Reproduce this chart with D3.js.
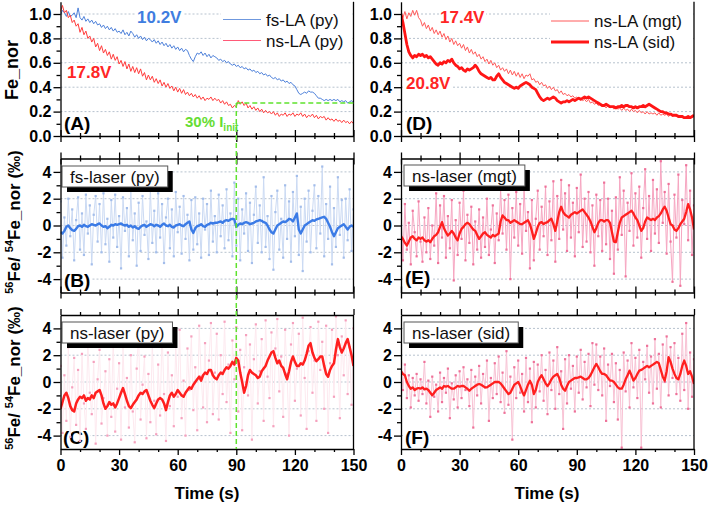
<!DOCTYPE html>
<html><head><meta charset="utf-8">
<script src="https://cdn.jsdelivr.net/npm/d3@7"></script>
<style>body{margin:0;background:#fff}svg{display:block}</style>
</head><body>
<svg id="c" width="709" height="505"></svg>
<script>
// ---------- DATA ----------
const timeS = d3.range(0, 151, 1); // seconds, one sample per second
const xMajorTicks = [0, 30, 60, 90, 120, 150];
const xMinorTicks = [10, 20, 40, 50, 70, 80, 100, 110, 130, 140];
const feTicks = [0.0, 0.2, 0.4, 0.6, 0.8, 1.0];
const feMinorTicks = [0.1, 0.3, 0.5, 0.7, 0.9];
const isoTicks = [-4, -2, 0, 2, 4];
const isoMinorTicks = [-3, -1, 1, 3];

// Panel A
const fsLA_py = [0.99,1.03,1.01,0.98,1.02,0.98,0.99,1.01,0.97,1.05,
0.97,0.95,0.98,0.94,0.96,0.93,0.95,0.92,0.94,0.91,
0.92,0.89,0.91,0.88,0.90,0.87,0.89,0.86,0.88,0.85,
0.86,0.84,0.87,0.83,0.85,0.82,0.86,0.84,0.81,0.83,
0.80,0.82,0.79,0.81,0.78,0.80,0.79,0.77,0.79,0.76,
0.78,0.75,0.77,0.74,0.76,0.73,0.75,0.72,0.74,0.71,
0.73,0.70,0.72,0.69,0.71,0.70,0.66,0.63,0.61,0.65,
0.68,0.67,0.69,0.66,0.68,0.65,0.67,0.64,0.66,0.65,
0.64,0.62,0.63,0.61,0.62,0.60,0.61,0.59,0.58,0.59,
0.57,0.58,0.56,0.57,0.55,0.56,0.54,0.55,0.53,0.54,
0.52,0.53,0.51,0.52,0.50,0.51,0.49,0.50,0.48,0.47,
0.48,0.46,0.47,0.45,0.46,0.44,0.45,0.43,0.44,0.42,
0.41,0.38,0.35,0.34,0.35,0.36,0.35,0.37,0.36,0.36,
0.35,0.33,0.31,0.31,0.30,0.29,0.30,0.29,0.30,0.29,
0.30,0.29,0.30,0.28,0.29,0.28,0.29,0.27,0.28,0.29,0.27];
const nsLA_py = [1.02,1.07,1.01,1.03,0.97,0.99,0.93,0.95,0.90,0.92,
0.85,0.89,0.83,0.86,0.80,0.82,0.77,0.80,0.73,0.76,
0.70,0.74,0.68,0.71,0.66,0.69,0.63,0.67,0.62,0.65,
0.59,0.62,0.57,0.61,0.55,0.59,0.53,0.57,0.52,0.56,
0.51,0.55,0.49,0.52,0.46,0.50,0.46,0.49,0.44,0.47,
0.43,0.46,0.41,0.44,0.40,0.43,0.39,0.41,0.37,0.40,
0.36,0.39,0.35,0.38,0.34,0.36,0.33,0.35,0.32,0.34,
0.31,0.33,0.30,0.32,0.29,0.31,0.30,0.32,0.29,0.31,
0.29,0.30,0.27,0.29,0.26,0.28,0.25,0.26,0.23,0.25,
0.24,0.29,0.26,0.28,0.25,0.27,0.23,0.25,0.22,0.24,
0.21,0.23,0.20,0.22,0.19,0.21,0.19,0.20,0.18,0.20,
0.17,0.19,0.16,0.18,0.17,0.19,0.16,0.18,0.17,0.19,
0.16,0.18,0.17,0.19,0.16,0.18,0.15,0.17,0.16,0.18,
0.15,0.17,0.14,0.16,0.15,0.16,0.13,0.15,0.13,0.14,
0.12,0.14,0.12,0.13,0.11,0.13,0.11,0.12,0.10,0.12,0.10];
// Panel D
const nsLA_mgt = [1.00,0.97,1.02,0.96,1.01,0.98,1.03,0.99,1.03,0.97,
0.95,0.90,0.93,0.88,0.91,0.86,0.89,0.84,0.87,0.83,
0.86,0.81,0.84,0.79,0.82,0.77,0.80,0.75,0.78,0.74,
0.76,0.72,0.75,0.70,0.73,0.68,0.71,0.67,0.69,0.65,
0.67,0.63,0.65,0.61,0.63,0.59,0.62,0.58,0.60,0.56,
0.58,0.54,0.56,0.53,0.55,0.51,0.54,0.50,0.53,0.49,
0.52,0.48,0.51,0.47,0.50,0.49,0.51,0.46,0.47,0.44,
0.45,0.42,0.44,0.41,0.42,0.39,0.41,0.38,0.40,0.37,
0.38,0.35,0.37,0.34,0.35,0.33,0.34,0.32,0.33,0.31,
0.32,0.30,0.31,0.29,0.30,0.28,0.30,0.27,0.28,0.26,
0.27,0.25,0.26,0.24,0.25,0.23,0.25,0.23,0.24,0.22,
0.24,0.22,0.23,0.21,0.23,0.21,0.22,0.20,0.22,0.20,
0.21,0.19,0.21,0.19,0.20,0.18,0.20,0.18,0.19,0.18,
0.19,0.17,0.19,0.17,0.18,0.17,0.18,0.16,0.18,0.16,
0.17,0.16,0.17,0.15,0.17,0.15,0.16,0.15,0.16,0.15,0.16];
const nsLA_sid = [1.00,0.93,0.84,0.75,0.69,0.66,0.64,0.66,0.65,0.67,
0.66,0.67,0.65,0.66,0.64,0.65,0.63,0.61,0.59,0.58,
0.60,0.59,0.61,0.60,0.62,0.61,0.63,0.60,0.58,0.57,
0.55,0.56,0.54,0.53,0.55,0.54,0.55,0.56,0.58,0.56,
0.53,0.51,0.50,0.49,0.48,0.47,0.48,0.46,0.46,0.49,
0.51,0.48,0.46,0.44,0.43,0.42,0.41,0.40,0.39,0.40,
0.39,0.41,0.42,0.43,0.44,0.43,0.42,0.40,0.39,0.38,
0.35,0.32,0.30,0.29,0.30,0.31,0.30,0.31,0.32,0.31,
0.29,0.28,0.27,0.28,0.28,0.29,0.28,0.29,0.30,0.29,
0.30,0.31,0.30,0.31,0.32,0.31,0.32,0.31,0.30,0.29,
0.28,0.27,0.26,0.25,0.25,0.26,0.25,0.24,0.24,0.24,
0.23,0.24,0.24,0.25,0.24,0.25,0.25,0.24,0.24,0.23,
0.24,0.23,0.24,0.24,0.25,0.24,0.25,0.26,0.25,0.24,
0.23,0.22,0.21,0.20,0.20,0.19,0.19,0.18,0.18,0.17,
0.17,0.17,0.16,0.16,0.16,0.15,0.15,0.16,0.15,0.16,0.17];
// Panel B (fs-laser py)
const rawB = [1.8,-2.4,0.6,-1.5,2.0,-0.8,1.2,-2.6,0.4,2.1,
-1.8,0.9,-2.2,2.3,-0.6,1.5,-2.9,0.8,2.2,-1.2,
1.6,-2.0,2.4,-1.4,0.5,-2.7,1.9,-0.9,2.3,-1.6,
0.7,-3.2,2.1,-0.4,1.3,-2.3,2.6,-1.1,0.9,-3.0,
1.7,-1.9,2.2,-0.7,0.3,-2.5,2.8,-1.3,1.1,-2.0,
2.4,-0.9,1.6,-2.8,0.6,2.0,-1.7,1.2,-2.3,2.5,
-0.5,1.4,-2.1,2.2,-1.0,0.8,-2.6,1.9,-1.8,2.1,
-1.4,0.9,-2.4,2.0,-0.3,1.6,-2.2,2.6,-1.2,0.7,
-2.0,2.3,-0.8,1.5,-1.7,2.7,-1.1,0.9,-2.3,3.2,
-1.5,2.0,-2.6,1.2,-0.6,2.4,-1.9,1.7,-2.8,0.8,
2.9,-1.3,1.5,-2.0,3.6,-1.6,0.7,-2.5,2.2,-3.3,
1.0,2.6,-1.8,0.5,-2.4,3.0,-1.0,1.8,-2.7,2.5,
-0.8,3.7,-2.2,1.4,-3.4,2.0,-1.2,2.6,-2.0,1.1,
3.0,-1.7,2.2,-0.6,4.4,-2.3,1.6,-1.0,2.9,-2.9,
1.3,-1.6,3.6,-0.7,1.9,-2.4,2.0,-1.1,2.7,-1.9,1.2];
const smoothB = [-0.5,-0.6,-0.4,-0.1,0.0,-0.2,-0.35,-0.4,-0.25,-0.05,
0.0,-0.1,0.05,-0.05,-0.1,0.0,0.1,0.05,0.0,0.1,
0.15,0.0,-0.1,-0.05,-0.2,-0.1,0.05,0.0,0.1,0.05,
0.1,0.15,0.05,0.0,0.05,-0.1,0.0,-0.15,-0.05,-0.2,
-0.25,-0.1,0.0,0.05,-0.1,0.0,0.1,0.05,-0.05,0.05,
0.0,-0.1,0.05,0.15,0.0,-0.05,0.05,-0.1,-0.15,0.0,
0.05,0.1,0.0,-0.05,0.1,0.2,0.3,-0.3,-0.55,-0.2,
-0.05,0.0,0.1,-0.05,-0.1,0.05,0.1,0.2,0.15,0.2,
0.2,0.25,0.3,0.2,0.35,0.4,0.35,0.45,0.5,0.45,
-0.1,0.05,0.15,0.1,0.2,0.25,0.2,0.1,0.15,0.2,
0.3,0.35,0.4,0.35,0.25,0.2,0.0,-0.3,-0.5,-0.6,
-0.3,0.0,0.1,0.2,0.3,0.25,0.35,0.5,0.45,0.3,
0.6,0.9,-0.3,-0.6,-0.3,0.0,0.1,0.2,0.3,0.4,
0.35,0.45,0.5,0.55,0.6,0.65,0.5,0.2,-0.1,-0.5,
-0.8,-0.5,-0.2,-0.1,0.0,0.1,-0.1,-0.3,-0.1,0.0,-0.1];
// Panel C (ns-laser py)
const rawC = [1.2,-3.8,0.5,-2.9,2.6,-4.1,-0.4,1.8,-3.2,0.9,
-4.4,2.1,-1.6,-3.5,3.0,-0.8,-2.4,1.5,-4.6,0.2,
2.4,-3.1,-1.2,0.8,-4.0,1.7,-2.6,3.3,-3.7,-0.5,
1.4,-4.3,2.7,-1.9,0.3,-3.4,2.0,-2.2,-4.5,1.0,
3.5,-2.8,-0.2,1.9,-4.2,0.6,-3.0,2.9,-1.4,-3.9,
1.3,-2.5,3.8,-0.9,-4.4,2.2,-1.8,0.5,-3.3,2.8,
-1.1,3.9,-2.7,0.1,-4.0,2.5,-0.6,3.4,-2.1,1.1,
-3.6,4.2,0.4,-1.9,2.9,-3.0,1.6,4.4,-2.4,0.7,
3.6,-2.8,2.0,-0.9,4.5,-1.5,1.3,-3.8,3.1,0.2,
4.1,-2.2,2.4,-3.6,1.1,3.5,-1.0,2.8,-4.3,1.7,
4.3,-1.6,0.8,3.2,-2.9,4.6,0.4,-1.2,3.7,-3.3,
2.5,4.7,-0.7,1.9,-2.6,3.9,0.6,-4.0,2.8,4.4,
-1.4,1.0,3.6,-2.5,4.8,0.3,-3.5,2.3,4.1,-0.8,
1.6,-2.9,4.5,0.9,3.0,-2.0,4.2,-3.8,1.4,3.9,
-1.1,4.9,2.0,-2.7,3.4,0.5,4.6,-0.9,2.6,-1.7,4.0];
const smoothC = [-2.0,-1.5,-1.0,-0.8,-1.2,-1.8,-2.1,-2.2,-1.6,-1.3,
-1.1,-1.2,-1.0,-1.4,-1.2,-1.3,-1.0,-1.2,-0.8,-0.7,
-0.6,-1.0,-1.6,-2.0,-1.8,-1.5,-1.7,-1.6,-1.9,-1.6,
-1.2,-0.8,-0.45,-0.9,-1.4,-1.8,-1.95,-1.7,-1.5,-1.3,
-1.0,-0.8,-0.9,-0.7,-0.6,-1.0,-1.4,-1.7,-1.95,-1.6,
-1.3,-1.2,-1.3,-1.6,-2.1,-1.5,-1.0,-0.8,-1.1,-0.9,
-0.6,-0.8,-1.0,-1.1,-0.8,-0.6,-0.4,-0.5,-0.2,0.0,
0.2,0.4,0.1,0.5,0.7,0.6,0.9,0.9,0.5,0.3,
0.2,0.5,0.7,0.6,0.9,1.1,1.0,1.2,1.5,1.3,
1.8,1.6,0.7,0.0,-0.8,-0.3,0.5,0.9,0.7,0.6,
0.5,0.3,0.4,0.8,1.0,1.2,1.6,1.9,2.2,2.3,
1.8,1.4,1.6,1.2,1.05,0.6,0.2,0.8,1.5,1.9,
1.5,1.2,1.2,1.4,1.3,1.6,2.1,2.7,2.9,2.2,
1.8,1.55,1.7,1.9,1.9,1.2,0.6,0.4,0.9,1.2,
1.4,2.4,3.2,2.6,2.2,2.5,2.9,3.2,2.6,2.0,1.2];
// Panel E (ns-laser mgt)
const rawE = [0.9,-2.6,1.6,-1.8,0.2,-2.9,1.1,-0.5,-2.3,1.8,
-1.2,-2.7,0.6,-2.0,1.3,-2.5,0.0,-1.5,2.4,-2.8,
1.5,-0.9,2.2,-2.4,0.7,-1.7,1.9,-4.1,0.4,-2.2,
1.7,-1.0,2.6,-2.6,0.8,-1.3,1.4,-2.9,0.3,-1.8,
1.2,-2.4,0.6,-1.6,2.0,-2.2,-0.3,1.5,-2.8,0.9,
-1.1,2.7,-0.6,1.9,-1.8,2.3,-4.0,1.3,-0.9,2.5,
-1.5,1.6,-2.1,2.8,-0.4,1.0,-3.2,1.9,-2.6,0.5,
2.6,-1.8,1.4,-0.8,2.9,-2.2,1.8,-1.1,3.3,-2.7,
2.2,-1.0,3.4,-0.3,2.4,-1.9,3.0,-0.9,1.7,-2.3,
2.8,-0.5,3.8,-1.6,2.0,-1.2,2.5,-2.0,1.5,-3.0,
2.3,-0.8,1.9,-1.9,3.2,-1.4,2.0,-2.5,1.1,-3.6,
2.1,-1.8,3.6,-0.7,2.6,-3.8,1.7,-0.4,3.9,-1.5,
2.4,-0.9,2.9,-2.4,1.3,4.2,-1.0,2.2,-1.9,3.4,
-0.6,2.7,-1.3,4.8,0.2,2.5,-2.1,3.1,-1.2,-4.2,
2.3,-0.9,3.8,-4.5,1.9,0.1,4.5,-1.1,2.6,-2.2,1.5];
const smoothE = [-0.8,-1.0,-1.3,-1.5,-1.2,-0.9,-0.8,-1.0,-1.1,-0.9,
-1.0,-0.9,-1.1,-1.2,-1.1,-1.25,-1.0,-0.8,-0.7,-0.5,
-0.1,0.25,-0.2,-0.5,-0.75,-0.6,-0.4,-0.6,-0.9,-1.1,
-0.6,-0.25,-0.1,0.1,0.2,0.1,-0.1,-0.3,-0.4,-0.7,
-1.0,-0.8,-0.6,-0.5,-0.7,-0.8,-0.9,-0.7,-0.8,-0.7,
-0.6,0.3,0.75,0.6,0.4,0.4,0.2,0.3,0.4,0.3,
0.2,0.1,0.1,0.2,0.3,0.4,0.1,-0.4,-1.0,-0.6,
-0.1,0.2,0.25,0.1,0.2,0.25,0.4,0.5,0.1,-0.4,
0.3,1.0,1.4,1.0,0.8,0.7,0.6,0.8,0.9,1.0,
0.9,1.0,1.1,1.2,1.0,0.8,0.6,0.3,-0.1,-0.5,
-0.2,0.2,0.4,0.4,0.3,0.4,0.4,0.2,-0.5,-1.2,
-1.25,-0.5,0.2,0.6,0.7,0.8,0.9,1.0,1.1,0.9,
0.6,0.4,0.0,-0.4,-0.2,0.3,0.6,0.5,0.4,0.5,
0.4,0.6,0.7,0.9,1.2,1.4,1.1,0.6,0.1,0.0,
-0.3,-0.4,-0.2,0.1,0.3,0.5,1.0,1.6,1.2,0.6,-0.3];
// Panel F (ns-laser sid)
const rawF = [1.4,-0.6,1.3,-1.2,0.5,-1.9,0.3,-1.0,0.6,-1.4,
0.2,-0.9,1.5,-1.6,0.1,-2.6,0.4,-1.1,-0.2,-2.2,
0.7,-1.5,0.3,-0.8,1.0,-2.7,-0.1,-1.3,0.5,-1.9,
0.8,-1.2,1.1,-0.6,0.2,-1.8,0.9,-3.4,0.4,-1.0,
1.2,-1.6,0.6,-0.4,1.6,-2.9,0.3,-1.2,1.4,-0.9,
1.9,-1.5,0.7,-2.3,2.3,-1.7,0.4,-4.3,1.1,-1.2,
1.6,-0.8,0.6,-2.2,1.8,-1.5,1.0,-3.0,1.5,-1.9,
1.3,-0.7,2.0,-1.4,0.9,-2.4,2.2,-0.6,1.6,-2.0,
2.6,-0.9,0.8,-3.5,1.7,-1.6,2.0,-0.5,1.2,-2.2,
1.9,-0.8,2.4,-1.3,1.5,-0.4,2.1,-1.8,2.9,-0.2,
2.8,-0.6,1.9,-1.0,2.5,-2.9,1.3,-0.3,2.1,-1.5,
1.4,-2.8,0.9,-4.9,2.2,-0.7,1.6,-1.9,2.9,-0.4,
1.8,-1.2,2.4,-4.9,1.5,0.2,2.7,-0.8,1.9,-1.6,
3.2,-0.5,2.1,-1.9,2.8,0.0,3.4,-1.0,2.6,0.3,
2.9,-0.9,1.8,-1.4,3.6,-0.6,4.4,-2.0,2.2,-1.1,1.7];
const smoothF = [0.8,0.6,0.5,0.0,-0.3,-0.5,-0.4,-0.6,-0.5,-0.45,
-0.5,-0.4,-0.55,-0.5,-0.6,-0.8,-1.0,-0.8,-0.6,-0.5,
-0.4,-0.5,-0.3,-0.35,-0.3,-0.4,-0.5,-0.5,-0.4,-0.3,
-0.35,-0.3,-0.3,-0.4,-0.5,-0.65,-0.5,-0.4,-0.3,-0.2,
-0.15,-0.2,-0.3,-0.4,-0.4,-0.3,-0.2,-0.1,0.0,0.0,
0.0,-0.1,-0.3,-0.5,-0.7,-0.9,-0.8,-0.5,-0.2,-0.1,
0.0,-0.3,-0.7,-1.0,-0.6,-0.2,0.1,-0.2,-0.9,-0.6,
0.0,0.3,0.5,0.2,-0.1,-0.3,-0.1,0.2,0.4,0.5,
0.6,0.3,-0.2,-0.5,-0.65,-0.3,0.0,0.1,0.2,0.3,
0.3,0.35,0.4,0.3,0.2,0.2,0.3,0.5,0.8,1.1,
1.35,1.1,0.8,0.6,0.6,0.5,0.3,0.1,0.1,0.0,
-0.2,-0.4,-0.5,-0.5,-0.2,0.2,0.5,0.85,0.5,0.1,
0.3,0.6,0.85,0.9,1.0,1.1,1.2,1.1,1.2,1.3,
1.4,1.5,1.4,0.9,0.4,0.1,0.8,1.85,1.5,1.0,
0.6,0.3,0.2,0.6,1.2,1.6,1.2,0.6,0.8,0.4,-0.15];
const markerTime = 90;      // 30% I_init crossing
const markerLevel = 0.27;

// ---------- DRAW ----------
const FONT = '"Liberation Sans", Arial, Helvetica, sans-serif';
const svg = d3.select('#c');
const colL = {left: 60.5, right: 353.5}, colR = {left: 401, right: 694};
const rowA = {top: 1.8, bottom: 136, dom: [0, 1.1]};
const rowB = {top: 158.5, bottom: 292.5, dom: [-5, 5]};
const rowC = {top: 315, bottom: 449, dom: [-5, 5]};

const panels = [];
function setup(name, col, row, opt) {
  const x = d3.scaleLinear().domain([0, 150]).range([col.left, col.right]);
  const y = d3.scaleLinear().domain(row.dom).range([row.bottom, row.top]);
  const id = 'clip' + name;
  svg.append('clipPath').attr('id', id).append('rect')
    .attr('x', col.left).attr('y', row.top).attr('width', col.right - col.left).attr('height', row.bottom - row.top);
  const gridG = svg.append('g');
  opt.grid.forEach(v => gridG.append('line')
    .attr('x1', col.left).attr('x2', col.right).attr('y1', y(v)).attr('y2', y(v))
    .attr('stroke', '#b7c2ce').attr('stroke-width', 1).attr('stroke-dasharray', '2,2'));
  const labelG = svg.append('g');
  const dataG = svg.append('g').attr('clip-path', `url(#${id})`);
  const P = {name, x, y, col, row, opt, dataG, labelG};
  panels.push(P);
  return P;
}
function line(P, xs, ys, color, w) {
  P.dataG.append('path').datum(xs.map((t, i) => [t, ys[i]]))
    .attr('fill', 'none').attr('stroke', color).attr('stroke-width', w).attr('stroke-linejoin', 'round')
    .attr('d', d3.line().x(d => P.x(d[0])).y(d => P.y(d[1])));
}
function raw(P, xs, ys, lc, dc) {
  line(P, xs, ys, lc, 1);
  P.dataG.append('g').selectAll('rect').data(xs.map((t, i) => [t, ys[i]])).join('rect')
    .attr('x', d => P.x(d[0]) - 1.1).attr('y', d => P.y(d[1]) - 1.1).attr('width', 2.2).attr('height', 2.2)
    .attr('fill', dc);
}
function label(P, txt, x, y, color, size, bg) {
  const t = P.labelG.append('text').attr('x', x).attr('y', y).attr('fill', color)
    .style('font', `bold ${size}px ${FONT}`).text(txt);
  if (bg) {
    const b = t.node().getBBox();
    P.labelG.insert('rect', 'text').attr('x', b.x - 1).attr('y', b.y).attr('width', b.width + 2).attr('height', b.height).attr('fill', '#fff');
  }
  return t;
}
function boxLabel(txt, x, yTop) {
  const g = svg.append('g');
  const t = g.append('text').attr('x', x + 8).attr('y', yTop + 16.5)
    .style('font', `17px ${FONT}`).attr('fill', '#111').text(txt);
  const w = t.node().getComputedTextLength() + 16;
  g.insert('rect', 'text').attr('x', x + 5).attr('y', yTop + 5).attr('width', w).attr('height', 21).attr('fill', '#000');
  g.insert('rect', 'text').attr('x', x).attr('y', yTop).attr('width', w).attr('height', 21)
    .attr('fill', '#fff').attr('stroke', '#555').attr('stroke-width', 1);
}
function axes(P) {
  const {x, y, col, row, opt} = P;
  const st = g => { g.selectAll('path,line').attr('stroke', '#000').attr('stroke-width', 1.3); g.selectAll('text').attr('fill', '#000').style('font', `bold 16px ${FONT}`); };
  // left
  svg.append('g').attr('transform', `translate(${col.left},0)`)
    .call(d3.axisLeft(y).tickValues(opt.major).tickSize(7).tickSizeOuter(0).tickPadding(2).tickFormat(opt.fmt)).call(st);
  svg.append('g').attr('transform', `translate(${col.left},0)`)
    .call(d3.axisLeft(y).tickValues(opt.minor).tickSize(4).tickFormat('')).call(st).select('.domain').remove();
  // right border
  svg.append('line').attr('x1', col.right).attr('x2', col.right).attr('y1', row.top).attr('y2', row.bottom)
    .attr('stroke', '#000').attr('stroke-width', 1.3);
  // bottom
  const b1 = svg.append('g').attr('transform', `translate(0,${row.bottom})`)
    .call(d3.axisBottom(x).tickValues(xMajorTicks).tickSize(6).tickSizeOuter(0).tickPadding(5).tickFormat(opt.xLabels ? d => d : '')).call(st);
  const b2 = svg.append('g').attr('transform', `translate(0,${row.bottom})`)
    .call(d3.axisBottom(x).tickValues(xMinorTicks).tickSize(3).tickFormat('')).call(st);
  b2.select('.domain').remove();
  if (!opt.xLabels) { b1.selectAll('.tick line').attr('y1', -6); b2.selectAll('.tick line').attr('y1', -3); }
  // top
  if (opt.top) {
    const t1 = svg.append('g').attr('transform', `translate(0,${row.top})`)
      .call(d3.axisTop(x).tickValues(xMajorTicks).tickSize(6).tickSizeOuter(0).tickFormat('')).call(st);
    const t2 = svg.append('g').attr('transform', `translate(0,${row.top})`)
      .call(d3.axisTop(x).tickValues(xMinorTicks).tickSize(3).tickFormat('')).call(st);
    t2.select('.domain').remove();
    if (opt.topCross) { t1.selectAll('.tick line').attr('y1', 6); t2.selectAll('.tick line').attr('y1', 3); }
  }
}

const feOpt = {major: feTicks, minor: feMinorTicks, fmt: d3.format('.1f'), grid: feTicks.slice(1), top: false, xLabels: false};
const isoOpt = (xl) => ({major: isoTicks, minor: isoMinorTicks, fmt: d => String(d), grid: isoTicks, top: true, topCross: !xl, xLabels: xl});

const A = setup('A', colL, rowA, feOpt);
const D = setup('D', colR, rowA, feOpt);
const B = setup('B', colL, rowB, isoOpt(false));
const E = setup('E', colR, rowB, isoOpt(false));
const C = setup('C', colL, rowC, isoOpt(true));
const F = setup('F', colR, rowC, isoOpt(true));

// panel labels with white background (under data)
label(A, '(A)', 64, 130, '#000', 19, true);
label(A, '10.2V', 137, 23, '#3f7de0', 17, true);
label(A, '17.8V', 67, 78, '#ff2525', 17, true);
const g30 = label(A, '30% I', 185, 127, '#66dd33', 15, false);
g30.append('tspan').attr('dy', 4).style('font-size', '10px').text('init');
label(D, '(D)', 406, 130, '#000', 19, true);
label(D, '17.4V', 440, 23, '#ff2525', 17, true);
label(D, '20.8V', 406, 89, '#ff2525', 17, true);
label(B, '(B)', 64, 287, '#000', 19, true);
label(E, '(E)', 405, 284, '#000', 19, true);
label(C, '(C)', 63, 444, '#000', 19, true);
label(F, '(F)', 405, 444, '#000', 19, true);

// data
line(A, timeS, fsLA_py, '#4e80d9', 1);
line(A, timeS, nsLA_py, '#ff3c3c', 1);
line(D, timeS, nsLA_mgt, '#ff5a5a', 1);
line(D, timeS, nsLA_sid, '#ff1616', 2.8);
raw(B, timeS, rawB, '#cbdaf3', '#a3bdea');
line(B, timeS, smoothB, '#3b7be6', 2.4);
raw(C, timeS, rawC, '#fde9ef', '#f5a0bd');
line(C, timeS, smoothC, '#ff1f1f', 2.5);
raw(E, timeS, rawE, '#f6a6c1', '#ee7199');
line(E, timeS, smoothE, '#ff1f1f', 2.3);
raw(F, timeS, rawF, '#f8c2d4', '#ee7199');
line(F, timeS, smoothF, '#ff1f1f', 2.3);

// legends
function legend(x0, y0, color, w, txt) {
  svg.append('line').attr('x1', x0).attr('x2', x0 + 38).attr('y1', y0).attr('y2', y0).attr('stroke', color).attr('stroke-width', w);
  svg.append('text').attr('x', x0 + 43).attr('y', y0 + 6).style('font', `17px ${FONT}`).attr('fill', '#111').text(txt);
}
svg.append('rect').attr('x', 221).attr('y', 6).attr('width', 130).attr('height', 46).attr('fill', '#fff');
legend(223, 19.5, '#6f98de', 1.2, 'fs-LA (py)');
legend(223, 40.5, '#ff5a78', 1.2, 'ns-LA (py)');
svg.append('rect').attr('x', 550).attr('y', 8).attr('width', 142).attr('height', 45).attr('fill', '#fff');
legend(551, 21, '#ff5a5a', 1, 'ns-LA (mgt)');
legend(551, 42, '#ff1616', 3, 'ns-LA (sid)');

// box labels
boxLabel('fs-laser (py)', 62, 166);
boxLabel('ns-laser (mgt)', 404, 165);
boxLabel('ns-laser (py)', 62, 322);
boxLabel('ns-laser (sid)', 404, 322);

panels.forEach(axes);

// axis titles
svg.append('text').attr('transform', 'translate(18,70) rotate(-90)').attr('text-anchor', 'middle')
  .style('font', `bold 18px ${FONT}`).text('Fe_nor');
function isoTitle(cy) {
  const t = svg.append('text').attr('transform', `translate(20,${cy}) rotate(-90)`).attr('text-anchor', 'middle')
    .style('font', `bold 17px ${FONT}`);
  t.append('tspan').style('font-size', '11px').attr('dy', -7).text('56');
  t.append('tspan').attr('dy', 7).text('Fe/ ');
  t.append('tspan').style('font-size', '11px').attr('dy', -7).text('54');
  t.append('tspan').attr('dy', 7).text('Fe_nor (‰)');
}
isoTitle(222);
isoTitle(378);
svg.append('text').attr('x', 207).attr('y', 499).attr('text-anchor', 'middle').style('font', `bold 17px ${FONT}`).text('Time (s)');
svg.append('text').attr('x', 547).attr('y', 499).attr('text-anchor', 'middle').style('font', `bold 17px ${FONT}`).text('Time (s)');

// green 30% marker
const gx = A.x(markerTime), gy = A.y(markerLevel);
svg.append('line').attr('x1', gx).attr('x2', gx).attr('y1', gy).attr('y2', C.y(-5))
  .attr('stroke', '#5fe22e').attr('stroke-width', 1.5).attr('stroke-dasharray', '5,3');
svg.append('line').attr('x1', gx).attr('x2', A.x(150)).attr('y1', gy).attr('y2', gy)
  .attr('stroke', '#5fe22e').attr('stroke-width', 1.5).attr('stroke-dasharray', '5,3');
</script>
</body></html>
